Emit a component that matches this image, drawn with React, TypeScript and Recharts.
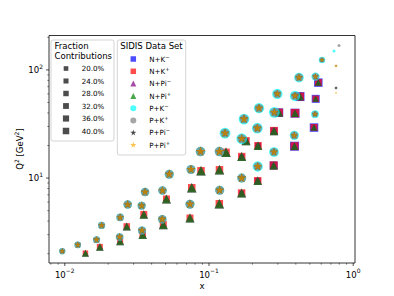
import React from 'react';
import { ScatterChart, Scatter, XAxis, YAxis, ReferenceArea } from 'recharts';

const FONT = '"DejaVu Sans", Verdana, sans-serif';

// ---- Proton-target bins (P+...) ----
const pX = [0.0096, 0.0123, 0.0166, 0.018, 0.0242, 0.024, 0.0273, 0.0341, 0.0343, 0.036, 0.0476, 0.0474, 0.053, 0.075, 0.0738, 0.0873, 0.1182, 0.1186, 0.1291, 0.1686, 0.1686, 0.1749, 0.2163, 0.2177, 0.2222, 0.2836, 0.2823, 0.2976, 0.3948, 0.3904, 0.4208, 0.5478, 0.5434, 0.6075, 0.76, 0.76, 0.76, 0.736, 0.797];
const pQ2 = [2.11, 2.41, 2.69, 3.65, 4.33, 2.85, 5.69, 5.55, 3.28, 7.42, 7.67, 4.17, 10.84, 12.0, 5.73, 17.6, 17.6, 7.72, 26.0, 23.1, 10.0, 35.1, 28.9, 12.8, 44.3, 40.5, 17.4, 60.0, 57.5, 24.8, 84.9, 86.7, 39.0, 123.7, 108.9, 61.3, 68.2, 149.8, 167.7];
const pKm = [0.107, 0.122, 0.141, 0.141, 0.16, 0.16, 0.203, 0.18, 0.18, 0.203, 0.203, 0.203, 0.225, 0.225, 0.225, 0.252, 0.252, 0.225, 0.324, 0.324, 0.225, 0.324, 0.324, 0.295, 0.295, 0.324, 0.265, 0.3, 0.3, 0.24, 0.265, 0.19, 0.17, 0.117, 0, 0, 0, 0.025, 0];
const pKp = [0.107, 0.122, 0.141, 0.141, 0.16, 0.16, 0.203, 0.18, 0.18, 0.203, 0.203, 0.203, 0.225, 0.225, 0.225, 0.252, 0.252, 0.225, 0.225, 0.225, 0.225, 0.225, 0.225, 0.203, 0.203, 0.203, 0.18, 0.18, 0.18, 0.16, 0.18, 0.122, 0.107, 0.076, 0, 0, 0.025, 0, 0.025];
const pPim = [0.14, 0.16, 0.185, 0.185, 0.21, 0.21, 0.265, 0.235, 0.235, 0.265, 0.265, 0.265, 0.295, 0.295, 0.295, 0.33, 0.33, 0.295, 0.295, 0.295, 0.295, 0.295, 0.295, 0.265, 0.265, 0.265, 0.235, 0.235, 0.235, 0.21, 0.235, 0.16, 0.14, 0.1, 0.03, 0, 0.03, 0, 0];
const pPip = [0.14, 0.16, 0.185, 0.185, 0.21, 0.21, 0.265, 0.235, 0.235, 0.265, 0.265, 0.265, 0.295, 0.295, 0.295, 0.33, 0.33, 0.295, 0.295, 0.295, 0.295, 0.295, 0.295, 0.265, 0.265, 0.265, 0.235, 0.235, 0.235, 0.21, 0.235, 0.16, 0.14, 0.1, 0.05, 0.03, 0, 0, 0];

// ---- Neutron-target bins (N+...) ----
const nX = [0.0139, 0.0175, 0.0242, 0.0269, 0.0347, 0.0353, 0.0482, 0.0507, 0.0738, 0.0759, 0.088, 0.1179, 0.1182, 0.1312, 0.1683, 0.1686, 0.1805, 0.2177, 0.2187, 0.2823, 0.281, 0.3057, 0.3917, 0.3948, 0.4276, 0.5348, 0.5495, 0.5728];
const nQ2 = [2.02, 2.31, 2.61, 3.57, 3.0, 4.61, 3.71, 6.41, 4.27, 8.14, 11.68, 5.79, 11.93, 17.3, 7.27, 15.8, 22.1, 9.44, 19.9, 27.3, 13.1, 40.3, 19.7, 39.8, 56.7, 29.3, 54.0, 76.3];
const nKm = [0, 0, 0, 0, 0, 0, 0, 0, 0, 0, 0, 0, 0, 0, 0.1, 0.1, 0.1, 0.144, 0.144, 0.196, 0.256, 0.289, 0.324, 0.324, 0.324, 0.289, 0.256, 0.289];
const nKp = [0.121, 0.144, 0.144, 0.169, 0.169, 0.196, 0.196, 0.196, 0.196, 0.225, 0.225, 0.225, 0.225, 0.225, 0.225, 0.225, 0.225, 0.225, 0.225, 0.256, 0.256, 0.256, 0.256, 0.289, 0.256, 0.196, 0.169, 0.196];
const nPim = [0.161, 0.185, 0.21, 0.21, 0.237, 0.237, 0.266, 0.266, 0.266, 0.296, 0.296, 0.296, 0.296, 0.296, 0.266, 0.266, 0.266, 0.237, 0.237, 0.237, 0.21, 0.21, 0.185, 0.185, 0.185, 0.139, 0.118, 0.139];
const nPip = [0.161, 0.185, 0.21, 0.21, 0.237, 0.237, 0.266, 0.266, 0.266, 0.296, 0.296, 0.296, 0.296, 0.296, 0.266, 0.266, 0.266, 0.237, 0.237, 0.237, 0.21, 0.21, 0.185, 0.185, 0.185, 0.139, 0.118, 0.139];

// ---- legends & ticks ----
const fractionLevels = [0.2, 0.24, 0.28, 0.32, 0.36, 0.4];
const xTicks = [0.008, 0.009, 0.01, 0.02, 0.03, 0.04, 0.05, 0.06, 0.07, 0.08, 0.09, 0.1, 0.2, 0.3, 0.4, 0.5, 0.6, 0.7, 0.8, 0.9, 1];
const yTicks = [2, 3, 4, 5, 6, 7, 8, 9, 10, 20, 30, 40, 50, 60, 70, 80, 90, 100, 200];
const X_DOMAIN: [number, number] = [0.00777, 1.029];
const Y_DOMAIN: [number, number] = [1.64, 208];

type Kind = 'square' | 'triangle' | 'circle' | 'star';
// marker diameter (px) at a 40% fraction, per marker kind
const FULL_D: Record<Kind, number> = { circle: 12, square: 10, triangle: 11.04, star: 11.04 };

const seriesDefs: { name: string; base: string; sup: string; kind: Kind; color: string; xs: number[]; qs: number[]; fs: number[] }[] = [
  { name: 'N+K-', base: 'N+K', sup: '\u2212', kind: 'square', color: '#0000ff', xs: nX, qs: nQ2, fs: nKm },
  { name: 'N+K+', base: 'N+K', sup: '+', kind: 'square', color: '#ff0000', xs: nX, qs: nQ2, fs: nKp },
  { name: 'N+Pi-', base: 'N+Pi', sup: '\u2212', kind: 'triangle', color: '#800080', xs: nX, qs: nQ2, fs: nPim },
  { name: 'N+Pi+', base: 'N+Pi', sup: '+', kind: 'triangle', color: '#008000', xs: nX, qs: nQ2, fs: nPip },
  { name: 'P+K-', base: 'P+K', sup: '\u2212', kind: 'circle', color: '#00ffff', xs: pX, qs: pQ2, fs: pKm },
  { name: 'P+K+', base: 'P+K', sup: '+', kind: 'circle', color: '#808080', xs: pX, qs: pQ2, fs: pKp },
  { name: 'P+Pi-', base: 'P+Pi', sup: '\u2212', kind: 'star', color: '#000000', xs: pX, qs: pQ2, fs: pPim },
  { name: 'P+Pi+', base: 'P+Pi', sup: '+', kind: 'star', color: '#ffa500', xs: pX, qs: pQ2, fs: pPip },
];

function starPath(cx: number, cy: number, R: number) {
  const pts: string[] = [];
  for (let k = 0; k < 10; k++) {
    const a = -Math.PI / 2 + (k * Math.PI) / 5;
    const r = k % 2 === 0 ? R : R * 0.381966;
    pts.push(`${(cx + r * Math.cos(a)).toFixed(2)},${(cy + r * Math.sin(a)).toFixed(2)}`);
  }
  return 'M' + pts.join('L') + 'Z';
}

function Marker({ kind, cx, cy, d, color }: { kind: Kind; cx: number; cy: number; d: number; color: string }) {
  const common = { fill: color, fillOpacity: 0.7, stroke: 'none' };
  if (kind === 'circle') return <circle cx={cx} cy={cy} r={d / 2} {...common} />;
  if (kind === 'square') return <rect x={cx - d / 2} y={cy - d / 2} width={d} height={d} {...common} />;
  if (kind === 'triangle')
    return <path d={`M${cx},${cy - d / 2}L${cx - d / 2},${cy + d / 2}L${cx + d / 2},${cy + d / 2}Z`} {...common} />;
  return <path d={starPath(cx, cy, d / 2)} {...common} />;
}

const makeShape = (kind: Kind, color: string) => (props: any) => {
  const f = props?.payload?.f ?? 0;
  const d = FULL_D[kind] * Math.sqrt(Math.max(f, 0) / 0.4);
  if (!isFinite(props.cx) || !isFinite(props.cy) || d <= 0) return <g />;
  return <Marker kind={kind} cx={props.cx} cy={props.cy} d={d} color={color} />;
};

const isMajor = (v: number) => Math.abs(Math.log10(v) - Math.round(Math.log10(v))) < 1e-9;
const expStr = (v: number) => {
  const e = Math.round(Math.log10(v));
  return e < 0 ? '\u2212' + Math.abs(e) : String(e);
};

const XTick = (props: any) => {
  const { x, y, payload } = props;
  const v = payload.value;
  const major = isMajor(v);
  return (
    <g>
      <line x1={x} x2={x} y1={y} y2={y + (major ? 3 : 1.7)} stroke="#000" strokeWidth={major ? 0.7 : 0.5} />
      {major && (
        <text x={x} y={y + 14.7} textAnchor="middle" fontSize={8.55} fontFamily={FONT} fill="#000">
          10<tspan dy={-4.3} fontSize={6}>{expStr(v)}</tspan>
        </text>
      )}
    </g>
  );
};

const YTick = (props: any) => {
  const { x, y, payload } = props;
  const v = payload.value;
  const major = isMajor(v);
  return (
    <g>
      <line x1={x} x2={x - (major ? 3 : 1.7)} y1={y} y2={y} stroke="#000" strokeWidth={major ? 0.7 : 0.5} />
      {major && (
        <text x={x - 6} y={y + 3.1} textAnchor="end" fontSize={8.55} fontFamily={FONT} fill="#000">
          10<tspan dy={-4.3} fontSize={6}>{expStr(v)}</tspan>
        </text>
      )}
    </g>
  );
};

function Overlay() {
  const legendMarkerSize: Record<Kind, number> = { square: 5.5, triangle: 6, circle: 6, star: 6.5 };
  return (
    <svg width={394} height={296} style={{ position: 'absolute', left: 0, top: 0, pointerEvents: 'none' }}>
      <text x={202} y={289} textAnchor="middle" fontSize={8.55} fontFamily={FONT} fill="#000">x</text>
      <text transform="translate(23,149) rotate(-90)" textAnchor="middle" fontSize={8.55} fontFamily={FONT} fill="#000">
        Q<tspan dy={-3.6} fontSize={6}>2</tspan>
        <tspan dy={3.6}> [GeV</tspan>
        <tspan dy={-3.6} fontSize={6}>2</tspan>
        <tspan dy={3.6}>]</tspan>
      </text>

      <rect x={51} y={40} width={63} height={101} rx={2} fill="#fff" fillOpacity={0.8} stroke="#cccccc" strokeWidth={0.85} />
      <text x={54.5} y={49} fontSize={8.55} fontFamily={FONT} fill="#000">Fraction</text>
      <text x={54.5} y={58.7} fontSize={8.55} fontFamily={FONT} fill="#000">Contributions</text>
      {fractionLevels.map((f, i) => {
        const cy = 68.5 + 12.5 * i;
        const s = 10.3 * Math.sqrt(f);
        return (
          <g key={f}>
            <rect x={66 - s / 2} y={cy - s / 2} width={s} height={s} fill="#000" fillOpacity={0.7} />
            <text x={81.7} y={cy + 2.6} fontSize={7.1} fontFamily={FONT} fill="#000">{(f * 100).toFixed(1)}%</text>
          </g>
        );
      })}

      <rect x={117.3} y={40} width={68.4} height={115} rx={2} fill="#fff" fillOpacity={0.8} stroke="#cccccc" strokeWidth={0.85} />
      <text x={151.5} y={49} textAnchor="middle" fontSize={8.55} fontFamily={FONT} fill="#000">SIDIS Data Set</text>
      {seriesDefs.map((s, i) => {
        const cy = 59 + 12.3 * i;
        return (
          <g key={s.name}>
            <Marker kind={s.kind} cx={133.3} cy={cy} d={legendMarkerSize[s.kind]} color={s.color} />
            <text x={149.3} y={cy + 2.6} fontSize={7.1} fontFamily={FONT} fill="#000">
              {s.base}
              <tspan dy={-3} fontSize={5.2}>{s.sup}</tspan>
            </text>
          </g>
        );
      })}
    </svg>
  );
}

export default function App() {
  const seriesData = seriesDefs.map((s) =>
    s.xs.map((x, i) => ({ x, q2: s.qs[i], f: s.fs[i] })).filter((p) => p.f > 0)
  );
  return (
    <div style={{ position: 'absolute', left: 0, top: 0, width: 394, height: 296, background: '#fff', overflow: 'hidden' }}>
      <ScatterChart width={394} height={296} margin={{ top: 35.5, right: 39, bottom: 0, left: 0 }}>
        <XAxis
          type="number"
          dataKey="x"
          scale="log"
          domain={X_DOMAIN}
          allowDataOverflow
          ticks={xTicks}
          interval={0}
          tickSize={0}
          tickMargin={0}
          tick={<XTick />}
          tickLine={false}
          axisLine={false}
          height={33}
        />
        <YAxis
          type="number"
          dataKey="q2"
          scale="log"
          domain={Y_DOMAIN}
          allowDataOverflow
          ticks={yTicks}
          interval={0}
          tickSize={0}
          tickMargin={0}
          tick={<YTick />}
          tickLine={false}
          axisLine={false}
          width={49}
        />
        <ReferenceArea
          x1={X_DOMAIN[0]}
          x2={X_DOMAIN[1]}
          y1={Y_DOMAIN[0]}
          y2={Y_DOMAIN[1]}
          fill="none"
          stroke="#000"
          strokeWidth={0.8}
          ifOverflow="visible"
        />
        {seriesDefs.map((s, i) => (
          <Scatter
            key={s.name}
            name={s.name}
            data={seriesData[i]}
            shape={makeShape(s.kind, s.color)}
            isAnimationActive={false}
          />
        ))}
      </ScatterChart>
      <Overlay />
    </div>
  );
}
